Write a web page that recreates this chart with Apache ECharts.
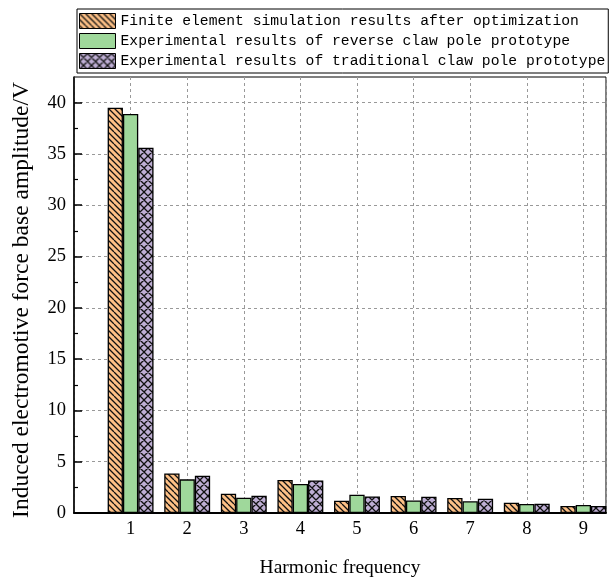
<!DOCTYPE html>
<html>
<head>
<meta charset="utf-8">
<script src="https://cdn.jsdelivr.net/npm/echarts@6/dist/echarts.min.js"></script>
<style>
  html, body { margin: 0; padding: 0; background: #fff; }
  #chart { width: 609px; height: 583px; }
</style>
</head>
<body>
<div id="chart"></div>
<script>
// Harmonic order on the horizontal axis
const harmonics = [1, 2, 3, 4, 5, 6, 7, 8, 9];
// Fundamental / harmonic EMF amplitudes (V)
const simOptimized = [39.5, 3.86, 1.88, 3.21, 1.20, 1.65, 1.46, 1.00, 0.68];
const reverseExperiment = [38.9, 3.28, 1.49, 2.82, 1.78, 1.23, 1.14, 0.88, 0.78];
const traditionalExperiment = [35.6, 3.63, 1.68, 3.18, 1.62, 1.59, 1.39, 0.91, 0.68];
const seriesNames = [
  'Finite element simulation results after optimization',
  'Experimental results of reverse claw pole prototype',
  'Experimental results of traditional claw pole prototype'
];
const majorTicks = [0, 5, 10, 15, 20, 25, 30, 35, 40];
const minorTicks = [2.5, 7.5, 12.5, 17.5, 22.5, 27.5, 32.5, 37.5];

// Hatched fills drawn on small repeating canvas tiles
function hatchTile(fill, size, step, dirs) {
  const c = document.createElement('canvas');
  c.width = size; c.height = size;
  const g = c.getContext('2d');
  g.fillStyle = fill;
  g.fillRect(0, 0, size, size);
  g.strokeStyle = '#111';
  g.lineWidth = 1.3;
  g.beginPath();
  for (let x0 = -size; x0 <= size * 2; x0 += step) {
    if (dirs.indexOf('\\') >= 0) { g.moveTo(x0, 0); g.lineTo(x0 + size, size); }
    if (dirs.indexOf('/') >= 0) { g.moveTo(x0 + size, 0); g.lineTo(x0, size); }
  }
  g.stroke();
  return { image: c, repeat: 'repeat' };
}

const orangeFill = hatchTile('#fdc086', 12, 6, '\\');
const greenFill = '#9fd89b';
const purpleFill = hatchTile('#beaed4', 16, 8, '\\/');

const toPairs = vals => harmonics.map((h, i) => [h, vals[i]]);

const barBase = {
  type: 'bar',
  barWidth: 15.3,
  barGap: '0%',
  xAxisIndex: 0,
  yAxisIndex: 0
};

const chart = echarts.init(document.getElementById('chart'), null, { renderer: 'canvas' });
chart.setOption({
  animation: false,
  backgroundColor: '#fff',
  grid: {
    left: 74, top: 77, width: 537, height: 437,
    show: true, borderColor: '#000', borderWidth: 1
  },
  legend: {
    orient: 'vertical',
    left: 77, top: 9,
    padding: [4, 3, 4, 2],
    itemGap: 4,
    itemWidth: 36, itemHeight: 15,
    borderColor: '#000', borderWidth: 1,
    icon: 'rect',
    itemStyle: { borderColor: '#000', borderWidth: 1 },
    textStyle: { fontFamily: 'Liberation Mono', fontSize: 14.7, color: '#000', lineHeight: 15 },
    data: seriesNames
  },
  xAxis: {
    type: 'value',
    min: 0, max: 9.4, interval: 1,
    name: 'Harmonic frequency',
    nameLocation: 'middle',
    nameGap: 45,
    nameTextStyle: { fontFamily: 'Liberation Serif', fontSize: 19.5, color: '#000' },
    axisLine: { show: true, lineStyle: { color: '#000', width: 2 } },
    axisTick: { show: false },
    axisLabel: {
      fontFamily: 'Liberation Serif', fontSize: 18.5, color: '#000', margin: 7,
      formatter: v => (harmonics.indexOf(v) >= 0 ? String(v) : '')
    },
    splitLine: { show: true, lineStyle: { color: '#999', type: [3, 3], width: 1 } }
  },
  yAxis: [{
    type: 'value',
    min: 0, max: 42.5, interval: 5,
    name: 'Induced electromotive force base amplitude/V',
    nameLocation: 'middle',
    nameRotate: 90,
    nameGap: 40,
    nameTextStyle: {
      fontFamily: 'Liberation Serif', fontSize: 23.5, color: '#000',
      padding: [0, 10, 0, 0]
    },
    axisLine: { show: true, lineStyle: { color: '#000', width: 1.5 } },
    axisTick: { show: true, inside: true, length: 8, lineStyle: { color: '#000', width: 1.5 }, customValues: majorTicks },
    axisLabel: {
      fontFamily: 'Liberation Serif', fontSize: 18.5, color: '#000', margin: 8,
      customValues: majorTicks
    },
    splitLine: { show: true, lineStyle: { color: '#999', type: [3, 3], width: 1 } }
  }, {
    type: 'value',
    min: 0, max: 42.5,
    position: 'left',
    axisLine: { show: false },
    axisTick: { show: true, inside: true, length: 4, lineStyle: { color: '#000', width: 1.2 }, customValues: minorTicks },
    axisLabel: { show: false },
    splitLine: { show: false }
  }],
  series: [
    Object.assign({}, barBase, {
      name: seriesNames[0],
      data: toPairs(simOptimized),
      itemStyle: { color: orangeFill, borderColor: '#000', borderWidth: 1.3 }
    }),
    Object.assign({}, barBase, {
      name: seriesNames[1],
      data: toPairs(reverseExperiment),
      itemStyle: { color: greenFill, borderColor: '#000', borderWidth: 1.3 }
    }),
    Object.assign({}, barBase, {
      name: seriesNames[2],
      data: toPairs(traditionalExperiment),
      itemStyle: { color: purpleFill, borderColor: '#000', borderWidth: 1.3 }
    })
  ]
});
</script>
</body>
</html>
